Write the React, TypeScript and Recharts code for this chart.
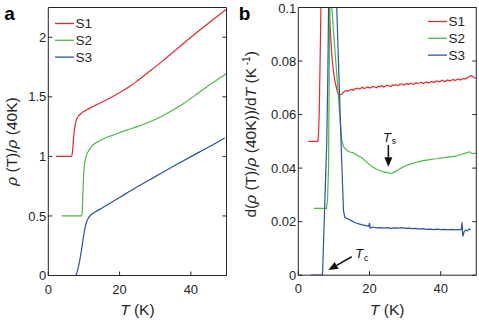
import React from 'react';
import { LineChart, Line, XAxis, YAxis, Legend, ReferenceLine } from 'recharts';

const FONT = '"Liberation Sans", Arial, Helvetica, sans-serif';
const INK = '#262626';
const RED = '#e4282e';
const GREEN = '#4db848';
const BLUE = '#2f50a5';

const T_TICKS = [0, 20, 40];
const RHO_TICKS = [0, 0.5, 1, 1.5, 2];
const DRHO_TICKS = [0, 0.02, 0.04, 0.06, 0.08, 0.1];

// panel a: rho(T)/rho(40K), offset curves
const rhoS1: [number, number][] = [
  [2.2, 1.0], [6.5, 1.0], [6.7, 1.02], [6.9, 1.08], [7.1, 1.16], [7.4, 1.24], [7.8, 1.3], [8.4, 1.335],
  [9.2, 1.36], [10, 1.378], [11, 1.395], [12, 1.41], [15, 1.455], [18, 1.5], [20, 1.535], [23, 1.59],
  [25, 1.635], [28, 1.705], [32, 1.8], [36, 1.9], [40, 2.0], [45, 2.12], [50, 2.235],
];
const rhoS2: [number, number][] = [
  [3.8, 0.5], [9.4, 0.5], [9.55, 0.56], [9.7, 0.68], [9.85, 0.8], [10.0, 0.88], [10.2, 0.94], [10.5, 0.99],
  [11, 1.03], [11.5, 1.055], [12.2, 1.085], [14, 1.125], [16, 1.155], [18.3, 1.18], [22, 1.22], [25, 1.25],
  [27.7, 1.28], [31, 1.325], [35, 1.39], [38, 1.445], [42, 1.53], [45, 1.595], [48, 1.655], [50, 1.695],
];
const rhoS3: [number, number][] = [
  [2.3, 0], [7.5, 0], [7.8, 0.005], [8.1, 0.03], [8.5, 0.08], [8.9, 0.14], [9.4, 0.23], [9.9, 0.33],
  [10.3, 0.4], [10.7, 0.445], [11.2, 0.48], [11.8, 0.505], [13, 0.53], [15, 0.565], [20, 0.655],
  [25, 0.745], [30, 0.83], [35, 0.915], [40, 0.998], [45, 1.078], [49.5, 1.155],
];

// panel b: d(rho(T)/rho(40K))/dT
const dS1: [number, number][] = [
  [2.8, 0.05], [5.5, 0.05], [5.7, 0.053], [5.9, 0.062], [6.1, 0.078], [6.3, 0.095], [6.45, 0.11], [7.5, 0.3],
  [8.6, 0.105], [8.8, 0.097], [9.1, 0.0885], [9.55, 0.08], [10.0, 0.075], [10.4, 0.0718], [11.0, 0.0683],
  [11.5, 0.0674], [12.2, 0.0676], [12.8, 0.0685], [13.5, 0.069], [14, 0.0687], [14.5, 0.0692], [15, 0.0694],
  [15.5, 0.0691], [16, 0.0696], [16.5, 0.0699], [17, 0.0695], [17.5, 0.0698], [18, 0.0702], [18.5, 0.0697],
  [19, 0.07], [19.5, 0.0703], [20, 0.0699], [20.5, 0.0701], [21, 0.0705], [21.5, 0.0703], [22, 0.07],
  [22.5, 0.0706], [23, 0.0704], [23.5, 0.0708], [24, 0.0703], [24.5, 0.0706], [25, 0.071], [25.5, 0.0707],
  [26, 0.0705], [26.5, 0.0711], [27, 0.0709], [27.5, 0.0712], [28, 0.0708], [28.5, 0.0713], [29, 0.0715],
  [29.5, 0.071], [30, 0.0713], [30.5, 0.0716], [31, 0.0712], [31.5, 0.0717], [32, 0.0715], [32.5, 0.0713],
  [33, 0.0719], [33.5, 0.0716], [34, 0.0718], [34.5, 0.0721], [35, 0.0716], [35.5, 0.0719], [36, 0.0722],
  [36.5, 0.0718], [37, 0.0721], [37.5, 0.0724], [38, 0.072], [38.5, 0.0723], [39, 0.0726], [39.5, 0.0722],
  [40, 0.0725], [40.5, 0.0728], [41, 0.0723], [41.5, 0.0726], [42, 0.0729], [42.5, 0.0725], [43, 0.0728],
  [43.5, 0.0731], [44, 0.0727], [44.5, 0.073], [45, 0.0733], [45.5, 0.0729], [46, 0.0732], [46.5, 0.0735],
  [47, 0.0733], [47.5, 0.0738], [48, 0.0741], [48.5, 0.0746], [49, 0.0742], [49.5, 0.0737], [50, 0.0737],
];
const dS2: [number, number][] = [
  [4.4, 0.025], [7.9, 0.025], [8.2, 0.028], [8.5, 0.04], [8.65, 0.07], [8.85, 0.1], [9.1, 0.3], [9.4, 0.1],
  [10.1, 0.0875], [10.8, 0.075], [11.5, 0.0625], [12.2, 0.0505], [12.7, 0.048], [13.5, 0.0468],
  [14.5, 0.046], [15.5, 0.0457], [16, 0.0452], [17, 0.0445], [18, 0.0437], [19, 0.0425], [20, 0.0413],
  [21, 0.0403], [22, 0.0396], [23, 0.039], [24, 0.0386], [25, 0.0383], [26, 0.038], [27, 0.0385],
  [28, 0.0393], [29, 0.0401], [30, 0.0408], [31, 0.0413], [32, 0.0417], [33, 0.0421], [34, 0.0424],
  [35, 0.0428], [36, 0.043], [37, 0.0432], [38, 0.0434], [39, 0.0435], [40, 0.0437], [41, 0.0439],
  [42, 0.0441], [43, 0.0443], [44, 0.0444], [45, 0.0448], [46, 0.0452], [47, 0.0456], [48, 0.0461],
  [49, 0.0454], [50, 0.0456],
];
const dS3: [number, number][] = [
  [3.5, 0], [6.8, 0], [7.4, 0.025], [8.0, 0.05], [8.3, 0.075], [8.5, 0.1], [9.6, 0.4], [10.8, 0.1],
  [11.4, 0.075], [12.0, 0.05], [12.4, 0.035], [12.7, 0.024], [13.1, 0.0215], [14, 0.021], [15, 0.0203],
  [16, 0.0196], [17, 0.0192], [18, 0.0188], [19, 0.0185], [19.8, 0.0183], [20, 0.0195], [20.2, 0.0176],
  [21, 0.018], [22, 0.0177], [23, 0.0178], [24, 0.0176], [25, 0.0178], [26, 0.0175], [27, 0.0177],
  [28, 0.0176], [29, 0.0178], [30, 0.0175], [31, 0.0176], [32, 0.0174], [33, 0.0175], [34, 0.0172],
  [35, 0.0174], [36, 0.0171], [37, 0.0172], [38, 0.017], [39, 0.0172], [40, 0.017], [41, 0.0171],
  [42, 0.0169], [43, 0.0171], [44, 0.0169], [45, 0.017], [45.8, 0.0171], [46, 0.0198], [46.2, 0.0145],
  [46.6, 0.0162], [47, 0.0168], [47.5, 0.0166], [48, 0.0173], [48.5, 0.0169],
];

// annotation arrows (data coordinates): [start, tip]
const TS_ARROW = [{ x: 25.3, y: 0.0486 }, { x: 25.3, y: 0.0405 }];
const TC_ARROW = [{ x: 15.0, y: 0.0069 }, { x: 8.45, y: 0.0019 }];

const toRows = (pairs: [number, number][]) => pairs.map(([T, v]) => ({ T, v }));

const tickStyle = { fill: INK, fontSize: 13, fontFamily: FONT };
const axisLine = { stroke: INK, strokeWidth: 1 };

const xLabel = (props: any) => {
  const vb = props.viewBox || {};
  const cx = vb.x + vb.width / 2;
  const cy = vb.y + 39.5;
  return (
    <text x={cx} y={cy} textAnchor="middle" fontFamily={FONT} fontSize={15.5} fill={INK}>
      <tspan fontStyle="italic">T</tspan> (K)
    </text>
  );
};

const yLabelA = (props: any) => {
  const vb = props.viewBox || {};
  const cx = vb.x + vb.width - 31.3;
  const cy = vb.y + vb.height / 2;
  return (
    <text x={cx} y={cy} transform={`rotate(-90 ${cx} ${cy})`} textAnchor="middle" fontFamily={FONT} fontSize={15.5} fill={INK}>
      <tspan fontStyle="italic">ρ</tspan> (T)/<tspan fontStyle="italic">ρ</tspan> (40K)
    </text>
  );
};

const yLabelB = (props: any) => {
  const vb = props.viewBox || {};
  const cx = vb.x + vb.width - 41.8;
  const cy = vb.y + vb.height / 2 - 7;
  return (
    <text x={cx} y={cy} transform={`rotate(-90 ${cx} ${cy})`} textAnchor="middle" fontFamily={FONT} fontSize={15.5} fill={INK}>
      d(<tspan fontStyle="italic">ρ</tspan> (T)/<tspan fontStyle="italic">ρ</tspan> (40K))/d<tspan fontStyle="italic">T</tspan> (K
      <tspan fontSize={10} dy={-6}> -1</tspan>
      <tspan dy={6}>)</tspan>
    </text>
  );
};

const makeLegend = (props: any) => {
  const payload = props.payload || [];
  return (
    <svg width={50} height={52} style={{ display: 'block', overflow: 'visible' }}>
      {payload.map((p: any, i: number) => {
        const y = 11.5 + i * 16.8;
        return (
          <g key={i}>
            <line x1={0} x2={19} y1={y} y2={y} stroke={p.color} strokeWidth={1.3} />
            <text x={20.5} y={y} dy="0.36em" fontFamily={FONT} fontSize={13.5} fill={INK}>
              {p.value}
            </text>
          </g>
        );
      })}
    </svg>
  );
};

const arrowShape = (kind: 'Ts' | 'Tc') => (p: any) => {
  const { x1, y1, x2, y2 } = p;
  const dx = x2 - x1;
  const dy = y2 - y1;
  const len = Math.hypot(dx, dy) || 1;
  const ux = dx / len;
  const uy = dy / len;
  const L = 9.5;
  const W = 4;
  const bx = x2 - ux * L;
  const by = y2 - uy * L;
  const pts = `${x2},${y2} ${bx - uy * W},${by + ux * W} ${bx + uy * W},${by - ux * W}`;
  const tx = kind === 'Ts' ? x1 - 5.3 : x1 + 3.5;
  const ty = kind === 'Ts' ? y1 - 3 : y1 + 1.5;
  return (
    <g>
      <line x1={x1} y1={y1} x2={bx} y2={by} stroke="#111" strokeWidth={1.5} />
      <polygon points={pts} fill="#111" />
      <text x={tx} y={ty} fontFamily={FONT} fontSize={13} fill="#111">
        <tspan fontStyle="italic">T</tspan>
        <tspan fontSize={8.5} dx={0.8} dy={kind === 'Ts' ? 1.5 : 3}>{kind === 'Ts' ? 's' : 'c'}</tspan>
      </text>
    </g>
  );
};

const mirrorAxes = (yDomain: number[], yTicks: number[]) => [
  <XAxis key="xt" xAxisId="top" orientation="top" type="number" domain={[0, 50]} ticks={T_TICKS} height={1}
    tickSize={-4} tickFormatter={() => ''} axisLine={axisLine} tickLine={axisLine} allowDataOverflow />,
  <YAxis key="yr" yAxisId="right" orientation="right" type="number" domain={yDomain} ticks={yTicks} width={1}
    tickSize={-4} tickFormatter={() => ''} axisLine={axisLine} tickLine={axisLine} allowDataOverflow />,
];

function PanelA() {
  return (
    <LineChart width={240} height={320} margin={{ top: 6.5, right: 12.5, bottom: 0, left: 0 }}>
      <XAxis dataKey="T" type="number" domain={[0, 50]} ticks={T_TICKS} height={44.5} tickSize={-4} tickMargin={13}
        axisLine={axisLine} tickLine={axisLine} tick={tickStyle} label={xLabel} allowDataOverflow />
      <YAxis type="number" domain={[0, 2.25]} ticks={RHO_TICKS} width={48.3} tickSize={-4} tickMargin={6}
        axisLine={axisLine} tickLine={axisLine} tick={tickStyle} label={yLabelA} allowDataOverflow />
      {mirrorAxes([0, 2.25], RHO_TICKS)}
      <Line data={toRows(rhoS1)} dataKey="v" name="S1" type="monotone" stroke={RED} strokeWidth={1.2} dot={false} activeDot={false} isAnimationActive={false} />
      <Line data={toRows(rhoS2)} dataKey="v" name="S2" type="monotone" stroke={GREEN} strokeWidth={1.2} dot={false} activeDot={false} isAnimationActive={false} />
      <Line data={toRows(rhoS3)} dataKey="v" name="S3" type="monotone" stroke={BLUE} strokeWidth={1.2} dot={false} activeDot={false} isAnimationActive={false} />
      <Legend layout="vertical" align="center" verticalAlign="middle" content={makeLegend}
        wrapperStyle={{ left: 55, top: 12, width: 50, height: 52 }} />
    </LineChart>
  );
}

function PanelB() {
  return (
    <LineChart width={239} height={320} margin={{ top: 6.5, right: 1.7, bottom: 0, left: 0 }}>
      <XAxis dataKey="T" type="number" domain={[0, 50]} ticks={T_TICKS} height={44.8} tickSize={-4} tickMargin={13}
        axisLine={axisLine} tickLine={axisLine} tick={tickStyle} label={xLabel} allowDataOverflow />
      <YAxis type="number" domain={[0, 0.1]} ticks={DRHO_TICKS} width={58.3} tickSize={-4} tickMargin={6}
        axisLine={axisLine} tickLine={axisLine} tick={tickStyle} label={yLabelB} allowDataOverflow />
      {mirrorAxes([0, 0.1], DRHO_TICKS)}
      <Line data={toRows(dS1)} dataKey="v" name="S1" type="linear" stroke={RED} strokeWidth={1.2} dot={false} activeDot={false} isAnimationActive={false} />
      <Line data={toRows(dS2)} dataKey="v" name="S2" type="linear" stroke={GREEN} strokeWidth={1.2} dot={false} activeDot={false} isAnimationActive={false} />
      <Line data={toRows(dS3)} dataKey="v" name="S3" type="linear" stroke={BLUE} strokeWidth={1.2} dot={false} activeDot={false} isAnimationActive={false} />
      <ReferenceLine segment={TS_ARROW} shape={arrowShape('Ts')} ifOverflow="visible" />
      <ReferenceLine segment={TC_ARROW} shape={arrowShape('Tc')} ifOverflow="visible" />
      <Legend layout="vertical" align="center" verticalAlign="middle" content={makeLegend}
        wrapperStyle={{ left: 188.3, top: 10, width: 50, height: 52 }} />
    </LineChart>
  );
}

export default function App() {
  const letter: React.CSSProperties = {
    position: 'absolute', top: 3.9, fontSize: 19, fontWeight: 'bold', lineHeight: '19px', fontFamily: FONT, color: '#000',
  };
  return (
    <div style={{ position: 'absolute', left: 0, top: 0, width: 479, height: 320, background: '#fff', fontFamily: FONT }}>
      <div style={{ position: 'absolute', left: 0, top: 0 }}><PanelA /></div>
      <div style={{ position: 'absolute', left: 240, top: 0 }}><PanelB /></div>
      <span style={{ ...letter, left: 4.3 }}>a</span>
      <span style={{ ...letter, left: 238.7 }}>b</span>
    </div>
  );
}
